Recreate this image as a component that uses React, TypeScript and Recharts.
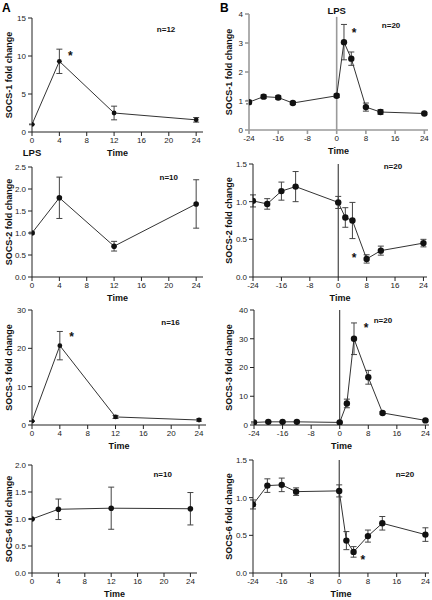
import React from 'react';
import { LineChart, Line, XAxis, YAxis, ErrorBar, ReferenceLine, ReferenceDot, Label } from 'recharts';

const A_TIMES = [0, 4, 12, 24];
const B_TIMES = [-24, -20, -16, -12, 0, 2, 4, 8, 12, 24];
const A_TICKS = [0, 4, 8, 12, 16, 20, 24];
const B_TICKS = [-24, -16, -8, 0, 8, 16, 24];

const socs1A = [1.0, 9.3, 2.5, 1.6];
const socs1AErr = [0.05, 1.6, 0.9, 0.3];
const socs2A = [1.0, 1.8, 0.7, 1.66];
const socs2AErr = [0.02, 0.47, 0.11, 0.55];
const socs3A = [1.0, 20.7, 2.1, 1.3];
const socs3AErr = [0.1, 3.7, 0.4, 0.3];
const socs6A = [1.0, 1.18, 1.2, 1.19];
const socs6AErr = [0.01, 0.19, 0.39, 0.3];

const socs1B = [0.96, 1.15, 1.12, 0.93, 1.18, 3.03, 2.46, 0.79, 0.62, 0.57];
const socs1BErr = [0.06, 0.06, 0.06, 0.05, 0.06, 0.61, 0.23, 0.14, 0.08, 0.04];
const socs2B = [1.01, 0.97, 1.14, 1.2, 0.99, 0.79, 0.75, 0.24, 0.35, 0.45];
const socs2BErr = [0.08, 0.07, 0.12, 0.2, 0.08, 0.13, 0.24, 0.055, 0.06, 0.05];
const socs3B = [0.9, 1.1, 1.1, 1.1, 0.9, 7.5, 30, 16.6, 4.2, 1.6];
const socs3BErr = [0.2, 0.2, 0.2, 0.2, 0.2, 1.5, 5.5, 2.4, 0.4, 0.3];
const socs6B = [0.91, 1.16, 1.17, 1.08, 1.09, 0.43, 0.28, 0.49, 0.66, 0.51];
const socs6BErr = [0.06, 0.09, 0.09, 0.05, 0.08, 0.12, 0.07, 0.08, 0.09, 0.09];

const build = (t: number[], v: number[], e: number[]) => t.map((time, i) => ({ time, value: v[i], err: e[i] }));

const FONT = '"Liberation Sans", Arial, sans-serif';

type Panel = {
  col: number; x0: number; x1: number; y0: number; y1: number;
  yDomain: number[]; yTicks: number[]; yFmt?: (v: number) => string;
  times: number[]; values: number[]; errs: number[];
  label: string; n: string; nPos: number[]; stars: number[][];
  r: number; gray?: boolean; lpsTop?: boolean; lpsBelow?: boolean;
};

const f1 = (v: number) => v.toFixed(1);

const panels: Panel[] = [
  { col: 0, x0: 32, x1: 203, y0: 18, y1: 132, yDomain: [0, 15], yTicks: [0, 5, 10, 15], times: A_TIMES, values: socs1A, errs: socs1AErr, label: 'SOCS-1 fold change', n: 'n=12', nPos: [19.6, 13.5], stars: [[5.6, 10.1]], r: 2.4, lpsBelow: true },
  { col: 0, x0: 32, x1: 203, y0: 167, y1: 277, yDomain: [0, 2.5], yTicks: [0, 0.5, 1, 1.5, 2, 2.5], yFmt: f1, times: A_TIMES, values: socs2A, errs: socs2AErr, label: 'SOCS-2 fold change', n: 'n=10', nPos: [20, 2.27], stars: [], r: 2.8 },
  { col: 0, x0: 32, x1: 206, y0: 310, y1: 425, yDomain: [0, 30], yTicks: [0, 10, 20, 30], times: A_TIMES, values: socs3A, errs: socs3AErr, label: 'SOCS-3 fold change', n: 'n=16', nPos: [19.9, 26.9], stars: [[5.7, 23]], r: 2.4 },
  { col: 0, x0: 32, x1: 197, y0: 465, y1: 573, yDomain: [0, 2], yTicks: [0, 0.5, 1, 1.5, 2], yFmt: f1, times: A_TIMES, values: socs6A, errs: socs6AErr, label: 'SOCS-6 fold change', n: 'n=10', nPos: [19.8, 1.83], stars: [], r: 2.8 },
  { col: 1, x0: 249, x1: 428, y0: 14, y1: 130, yDomain: [0, 4], yTicks: [0, 1, 2, 3, 4], times: B_TIMES, values: socs1B, errs: socs1BErr, label: 'SOCS-1 fold change', n: 'n=20', nPos: [14.9, 3.62], stars: [[4.8, 3.34]], r: 3.2, gray: true, lpsTop: true },
  { col: 1, x0: 253, x1: 427, y0: 164, y1: 277, yDomain: [0, 1.5], yTicks: [0, 0.5, 1, 1.5], yFmt: f1, times: B_TIMES, values: socs2B, errs: socs2BErr, label: 'SOCS-2 fold change', n: 'n=20', nPos: [15.4, 1.47], stars: [[4.45, 0.25]], r: 3.2 },
  { col: 1, x0: 254, x1: 429, y0: 310, y1: 425, yDomain: [0, 40], yTicks: [0, 10, 20, 30, 40], times: B_TIMES, values: socs3B, errs: socs3BErr, label: 'SOCS-3 fold change', n: 'n=20', nPos: [12.1, 36.5], stars: [[7.4, 33.7]], r: 3.2 },
  { col: 1, x0: 253, x1: 429, y0: 460, y1: 573, yDomain: [0, 1.5], yTicks: [0, 0.5, 1, 1.5], yFmt: f1, times: B_TIMES, values: socs6B, errs: socs6BErr, label: 'SOCS-6 fold change', n: 'n=20', nPos: [18.3, 1.31], stars: [[6.6, 0.17]], r: 3.2 },
];

const MT = 12;
const XH = 30;

function PanelChart({ p }: { p: Panel }) {
  const cx = p.col * 216;
  const cy = p.y0 - MT;
  const W = p.x1 - cx + 4;
  const H = p.y1 - cy + XH;
  const axisColor = p.gray ? '#9a9a9a' : '#222';
  const axisW = p.gray ? 1.6 : 1;
  const data = build(p.times, p.values, p.errs);
  const xDomain = p.col === 0 ? [0, 25] : [-24, 25];
  const xTicks = p.col === 0 ? A_TICKS : B_TICKS;
  const labelX = p.col === 0 ? 9 : 13;
  const tick = { fontSize: 8, fill: '#222', fontFamily: FONT };
  return (
    <div style={{ position: 'absolute', left: cx, top: cy }}>
      <LineChart width={W} height={H} data={data} margin={{ top: MT, right: 4, bottom: 0, left: 0 }}>
        <XAxis
          dataKey="time" type="number" domain={xDomain} ticks={xTicks} interval={0} allowDataOverflow
          height={XH} tickSize={4} tickMargin={1} tick={tick}
          axisLine={{ stroke: axisColor, strokeWidth: axisW }} tickLine={{ stroke: axisColor, strokeWidth: axisW }}
        >
          <Label value="Time" position="insideBottom" offset={6} style={{ fontSize: 9, fontWeight: 'bold', fill: '#111', fontFamily: FONT }} />
          {p.lpsBelow && (
            <Label
              content={(props: any) => (
                <text x={props.viewBox.x} y={props.viewBox.y + 24} textAnchor="middle" fontSize={9.5} fontWeight="bold" fill="#111" fontFamily={FONT}>LPS</text>
              )}
            />
          )}
        </XAxis>
        <YAxis
          type="number" domain={p.yDomain} ticks={p.yTicks} interval={0} allowDataOverflow
          width={p.x0 - cx} tickSize={4} tickMargin={2} tick={tick} tickFormatter={p.yFmt}
          axisLine={{ stroke: axisColor, strokeWidth: axisW }} tickLine={{ stroke: axisColor, strokeWidth: axisW }}
        >
          <Label value={p.label} angle={-90} position="insideLeft" offset={labelX} style={{ textAnchor: 'middle', fontSize: 9, fontWeight: 'bold', fill: '#111', fontFamily: FONT }} />
        </YAxis>
        {p.col === 1 && !p.lpsTop && (
          <ReferenceLine x={0} stroke="#222" strokeWidth={1} ifOverflow="extendDomain" />
        )}
        {p.lpsTop && (
          <ReferenceLine
            segment={[{ x: 0, y: 3.9 }, { x: 0, y: 0 }]} stroke="#9a9a9a" strokeWidth={1.6}
            label={{ value: 'LPS', position: 'top', offset: 3, style: { fontSize: 9.5, fontWeight: 'bold', fill: '#111', fontFamily: FONT } }}
          />
        )}
        <Line
          dataKey="value" type="linear" stroke="#333" strokeWidth={1} isAnimationActive={false}
          dot={{ r: p.r, fill: '#111', stroke: '#111', strokeWidth: 0 }} activeDot={false}
        >
          <ErrorBar dataKey="err" direction="y" width={3} stroke="#444" strokeWidth={1} isAnimationActive={false} />
        </Line>
        <ReferenceDot
          x={p.nPos[0]} y={p.nPos[1]} r={0} stroke="none" fill="none"
          label={{ value: p.n, position: 'center', style: { fontSize: 8, fontWeight: 'bold', fill: '#111', fontFamily: FONT } }}
        />
        {p.stars.map((s, i) => (
          <ReferenceDot
            key={i} x={s[0]} y={s[1]} r={0} stroke="none" fill="none"
            label={{ value: '*', position: 'center', style: { fontSize: 12, fontWeight: 'bold', fill: '#111', fontFamily: FONT } }}
          />
        ))}
      </LineChart>
    </div>
  );
}

export default function App() {
  return (
    <div style={{ position: 'absolute', left: 0, top: 0, width: 432, height: 600, background: '#fff', fontFamily: FONT }}>
      {panels.map((p, i) => (
        <PanelChart key={i} p={p} />
      ))}
      <div style={{ position: 'absolute', left: 2, top: 1, fontSize: 12, fontWeight: 'bold', color: '#000', fontFamily: FONT }}>A</div>
      <div style={{ position: 'absolute', left: 220, top: 1, fontSize: 12, fontWeight: 'bold', color: '#000', fontFamily: FONT }}>B</div>
    </div>
  );
}
